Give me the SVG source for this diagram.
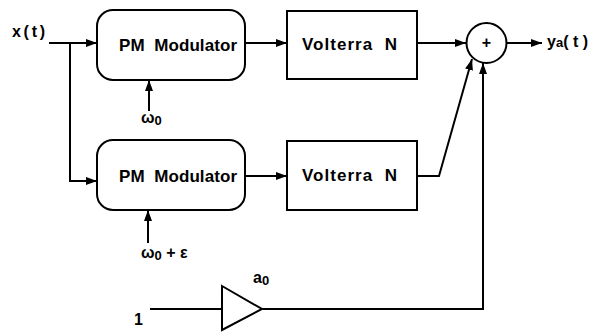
<svg xmlns="http://www.w3.org/2000/svg" width="599" height="332" viewBox="0 0 599 332">
<style>
  .box { fill: #fff; stroke: #000; stroke-width: 2; }
  .ln { fill: none; stroke: #000; stroke-width: 2; }
  .lbl { font-family: "Liberation Sans", Arial, sans-serif; font-weight: bold; font-size: 17px; fill: #000; }
  .sm { font-family: "Liberation Sans", Arial, sans-serif; font-weight: bold; font-size: 16px; fill: #000; }
  .sub { font-size: 13px; }
</style>
<defs>
  <marker id="arr" viewBox="0 0 11 8" refX="11" refY="4" markerWidth="11" markerHeight="8" markerUnits="userSpaceOnUse" orient="auto">
    <path d="M0,0 L11,4 L0,8 Z" fill="#000"/>
  </marker>
</defs>
<rect width="599" height="332" fill="#fff"/>

<g id="connectors">
  <path class="ln" d="M49,43 H97" marker-end="url(#arr)"/>
  <path class="ln" d="M70,43 V181 H97" marker-end="url(#arr)"/>
  <path class="ln" d="M245,43 H287" marker-end="url(#arr)"/>
  <path class="ln" d="M245,176 H287" marker-end="url(#arr)"/>
  <path class="ln" d="M417,43 H466" marker-end="url(#arr)"/>
  <path class="ln" d="M417,176 H439 L472,59" marker-end="url(#arr)"/>
  <path class="ln" d="M507,43 H542" marker-end="url(#arr)"/>
  <path class="ln" d="M149,111 V80" marker-end="url(#arr)"/>
  <path class="ln" d="M148,243 V210" marker-end="url(#arr)"/>
  <path class="ln" d="M150,309 H222"/>
  <path class="ln" d="M262,309 H483 V63" marker-end="url(#arr)"/>
</g>

<g id="input-label">
  <text class="sm" x="12" y="37" textLength="33" lengthAdjust="spacing">x(t)</text>
</g>

<g id="pm-top">
  <rect class="box" x="97" y="10" width="148" height="70" rx="16"/>
  <text class="lbl" x="119" y="51" textLength="118" lengthAdjust="spacing" xml:space="preserve">PM  Modulator</text>
</g>

<g id="omega0">
  <text class="sm" x="141" y="123">ω<tspan class="sub" dy="2">0</tspan></text>
</g>

<g id="pm-bottom">
  <rect class="box" x="97" y="140" width="148" height="70" rx="16"/>
  <text class="lbl" x="119" y="182" textLength="118" lengthAdjust="spacing" xml:space="preserve">PM  Modulator</text>
</g>

<g id="omega0-eps">
  <text class="sm" x="141" y="258">ω<tspan class="sub" dy="2">0</tspan><tspan dy="-2" xml:space="preserve"> + ε</tspan></text>
</g>

<g id="volterra-top">
  <rect class="box" x="287" y="11" width="130" height="68"/>
  <text class="lbl" x="302" y="50" textLength="95" lengthAdjust="spacing" xml:space="preserve">Volterra  N</text>
</g>

<g id="volterra-bottom">
  <rect class="box" x="287" y="141" width="130" height="69"/>
  <text class="lbl" x="302" y="181" textLength="95" lengthAdjust="spacing" xml:space="preserve">Volterra  N</text>
</g>

<g id="sum">
  <circle class="box" cx="486.5" cy="43" r="20"/>
  <text class="sm" x="486.5" y="48" text-anchor="middle" font-size="13">+</text>
</g>

<g id="output-label">
  <text class="sm" x="547" y="47" font-size="17">y<tspan class="sub">a</tspan><tspan xml:space="preserve">( t )</tspan></text>
</g>

<g id="gain">
  <polygon class="box" points="222,286 262,309 222,330"/>
  <text class="sm" x="253" y="283">a<tspan class="sub" dy="2">0</tspan></text>
</g>

<g id="one-label">
  <text class="sm" x="134" y="325">1</text>
</g>
</svg>
